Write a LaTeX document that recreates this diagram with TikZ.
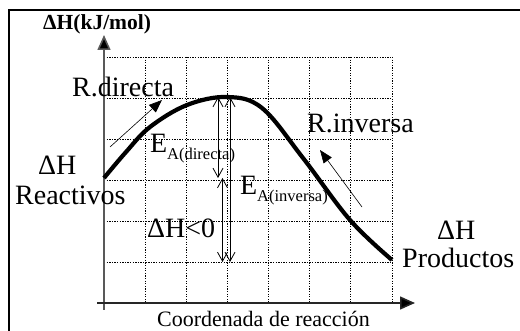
\documentclass[tikz,border=0pt]{standalone}
\usepackage{fontspec}
\setmainfont{Liberation Serif}
\usetikzlibrary{arrows.meta}
\begin{document}
\begin{tikzpicture}[x=1pt,y=-1pt,
  gridline/.style={line width=0.8pt, dash pattern=on 1.3pt off 1.3pt},
  axisline/.style={line width=1.6pt, black!65, -{Triangle[length=15pt,width=13pt,fill=black]}},
  energy/.style={line width=0.8pt, {Straight Barb[length=9pt,width=10pt]}-{Straight Barb[length=9pt,width=10pt]}},
  dirarrow/.style={line width=0.6pt, -{Triangle[length=13pt,width=10pt]}},
  bigtxt/.style={font=\fontsize{28}{30}\selectfont, inner sep=0pt, anchor=base west},
  subtxt/.style={font=\fontsize{16.5}{18}\selectfont, inner sep=0pt, anchor=base west}]
\useasboundingbox (0,0) rectangle (520,331);
% frame
\draw[line width=2.5pt] (9,335) -- (9,10) -- (525,10);
% grid
\foreach \i in {1,...,7} \draw[gridline] ({104+41.14*\i},57) -- ({104+41.14*\i},303);
\foreach \j in {0,...,5} \draw[gridline] (104,{57+41.1*\j}) -- (392,{57+41.1*\j});
% axes
\coordinate (ybot) at (104,310);
\coordinate (ytop) at (104,35);
\coordinate (xleft) at (97,303);
\coordinate (xright) at (415,303);
\draw[axisline] (ybot) -- (ytop);
\draw[axisline, black!85] (xleft) -- (xright);
% curve
\coordinate (reac) at (104,178);
\coordinate (peak) at (227,97);
\coordinate (prod) at (392,260);
\draw[line width=4.2pt] plot[smooth, tension=0.6] coordinates {(reac) (126,152) (150,127) (187,105) (peak) (262,108) (303,158) (350,220) (prod)};
% energy arrows
\coordinate (a1) at (218,97);
\coordinate (a2) at (218,178);
\coordinate (b1) at (230,97);
\coordinate (b2) at (230,262);
\coordinate (c1) at (222.5,178);
\coordinate (c2) at (222.5,262);
\draw[energy] (a1) -- (a2);
\draw[energy] (b1) -- (b2);
\draw[energy] (c1) -- (c2);
% direction arrows
\coordinate (d1) at (110,147);
\coordinate (d2) at (162,100);
\coordinate (i1) at (362,207);
\coordinate (i2) at (320,150);
\draw[dirarrow] (d1) -- (d2);
\draw[dirarrow] (i1) -- (i2);
% texts
\node[inner sep=0pt, anchor=base west, font=\bfseries\fontsize{21.5}{24}\selectfont] (title) at (43,30) {ΔH(kJ/mol)};
\node[bigtxt] (rdir) at (72,97) {R.directa};
\node[bigtxt] (rinv) at (307,133) {R.inversa};
\node[bigtxt] (ead) at (150,153) {E};
\node[subtxt] (eads) at (167,160) {A(directa)};
\node[bigtxt] (eai) at (240,195) {E};
\node[subtxt] (eais) at (257,202) {A(inversa)};
\node[bigtxt] (dh) at (147,238) {ΔH<0};
\node[bigtxt] (dhr) at (38,175) {ΔH};
\node[bigtxt] (reactivos) at (15,205) {Reactivos};
\node[bigtxt] (dhp) at (437,240) {ΔH};
\node[bigtxt] (productos) at (402,268) {Productos};
\node[inner sep=0pt, anchor=base west, font=\fontsize{22}{24}\selectfont] (xlab) at (157,327) {Coordenada de reacción};
\end{tikzpicture}
\end{document}
